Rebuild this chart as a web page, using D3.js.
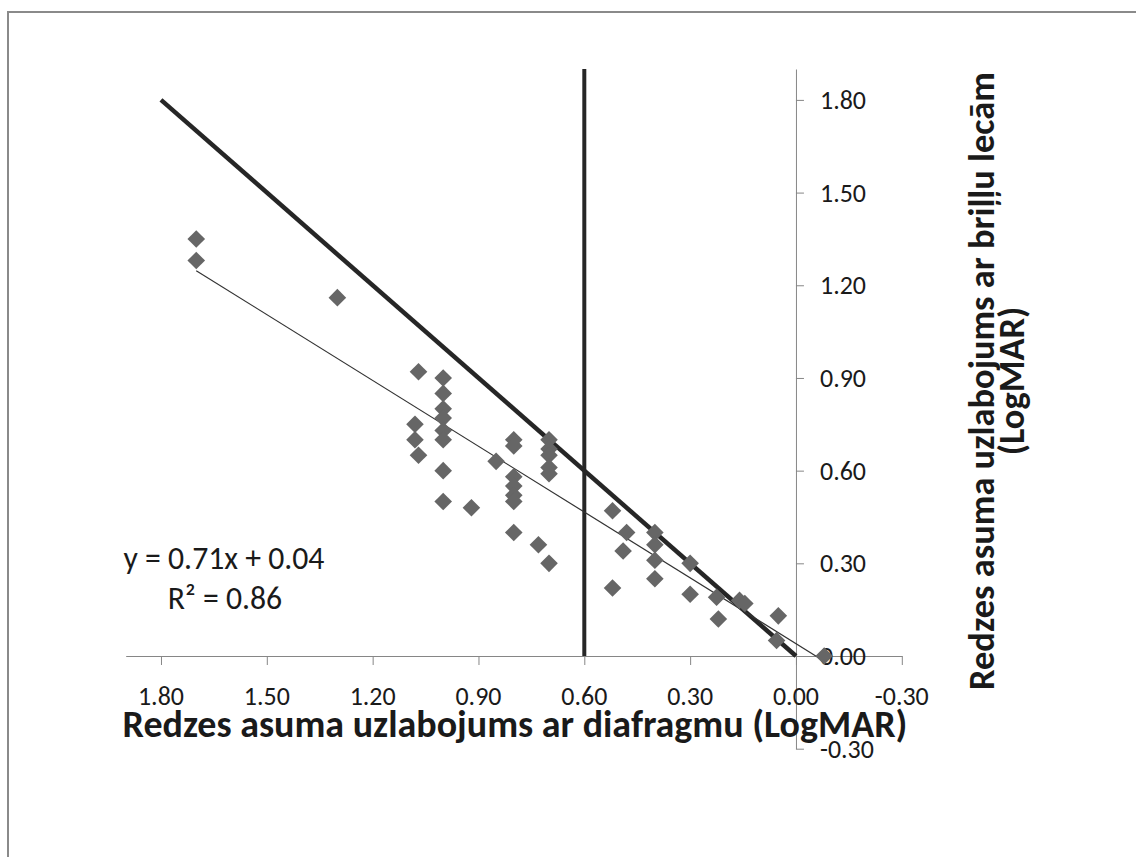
<!DOCTYPE html>
<html>
<head>
<meta charset="utf-8">
<script src="https://cdn.jsdelivr.net/npm/d3@7"></script>
<style>
  html, body { margin: 0; padding: 0; background: #fff; }
  svg { display: block; }
  text { font-family: Carlito, Lato, "Open Sans", sans-serif; fill: #1a1a1a; }
</style>
</head>
<body>
<svg id="chart" width="1136" height="857"></svg>
<script>
// ---- data ----
const xValues = [1.70, 1.70, 1.30, 1.07, 1.00, 1.00, 1.00, 1.00, 1.00, 1.00,
                 1.08, 1.08, 1.07, 1.00, 1.00, 0.92, 0.85, 0.80, 0.80, 0.80,
                 0.80, 0.80, 0.80, 0.80, 0.73, 0.70, 0.70, 0.70, 0.70, 0.70,
                 0.70, 0.52, 0.48, 0.49, 0.52, 0.40, 0.40, 0.40, 0.40, 0.30,
                 0.30, 0.225, 0.22, 0.16, 0.145, 0.05, 0.055, -0.08];
const yValues = [1.35, 1.28, 1.16, 0.92, 0.90, 0.85, 0.80, 0.77, 0.73, 0.70,
                 0.75, 0.70, 0.65, 0.60, 0.50, 0.48, 0.63, 0.70, 0.68, 0.58,
                 0.55, 0.52, 0.50, 0.40, 0.36, 0.30, 0.70, 0.67, 0.65, 0.61,
                 0.59, 0.47, 0.40, 0.34, 0.22, 0.40, 0.36, 0.31, 0.25, 0.30,
                 0.20, 0.19, 0.12, 0.18, 0.17, 0.13, 0.05, 0.00];
const xTicks = [1.80, 1.50, 1.20, 0.90, 0.60, 0.30, 0.00, -0.30];
const yTicks = [-0.30, 0.00, 0.30, 0.60, 0.90, 1.20, 1.50, 1.80];
const identityLine = [[1.80, 1.80], [0.00, 0.00]];
const thresholdLine = [[0.60, 0.00], [0.60, 1.90]];
const trendSlope = 0.71, trendIntercept = 0.04;
const trendRange = [1.70, -0.08];
const equationLines = ["y = 0.71x + 0.04", "R² = 0.86"];
const xTitle = "Redzes asuma uzlabojums ar diafragmu (LogMAR)";
const yTitleLines = ["Redzes asuma uzlabojums ar briļļu lecām", "(LogMAR)"];

// ---- layout ----
const svg = d3.select("#chart");
const x = d3.scaleLinear().domain([1.90, -0.30]).range([125.7, 901.8]);
const y = d3.scaleLinear().domain([-0.30, 1.90]).range([748.7, 69]);
const axisColor = "#868686";
const fmt = d => d.toFixed(2);

function fit(sel, target) {
  const w = sel.node().getComputedTextLength();
  const fs = parseFloat(sel.attr("font-size"));
  const nfs = fs * target / w;
  sel.attr("font-size", nfs);
  return nfs;
}

// outer border (only top/left visible in reference)
svg.append("rect")
  .attr("x", 8).attr("y", 12)
  .attr("width", 1200).attr("height", 900)
  .attr("fill", "none").attr("stroke", "#8a8a8a").attr("stroke-width", 2);

// X axis at y = 0
const xAxisG = svg.append("g")
  .attr("transform", `translate(0,${y(0)})`)
  .call(d3.axisBottom(x).tickValues(xTicks).tickSize(9).tickSizeOuter(0).tickFormat(() => ""));
xAxisG.select(".domain").attr("stroke", axisColor);
xAxisG.selectAll(".tick line").attr("stroke", axisColor);

// Y axis at x = 0 (ticks to the right)
const yAxisG = svg.append("g")
  .attr("transform", `translate(${x(0)},0)`)
  .call(d3.axisRight(y).tickValues(yTicks).tickSize(8).tickSizeOuter(0).tickFormat(() => ""));
yAxisG.select(".domain").attr("stroke", axisColor);
yAxisG.selectAll(".tick line").attr("stroke", axisColor);

// tick label size: fit "1.80" to reference width
const probe = svg.append("text").attr("font-size", 24).text("1.80");
const tickFs = fit(probe, 46);
probe.remove();

svg.append("g").selectAll("text").data(xTicks).join("text")
  .attr("x", d => x(d)).attr("y", 696)
  .attr("text-anchor", "middle").attr("dominant-baseline", "central")
  .attr("font-size", tickFs)
  .text(fmt);

svg.append("g").selectAll("text").data(yTicks).join("text")
  .attr("x", 820).attr("y", d => y(d))
  .attr("text-anchor", "start").attr("dominant-baseline", "central")
  .attr("font-size", tickFs)
  .text(fmt);

// reference lines
const line = d3.line().x(d => x(d[0])).y(d => y(d[1]));
svg.append("path").datum(thresholdLine).attr("d", line)
  .attr("stroke", "#262626").attr("stroke-width", 4).attr("fill", "none");
svg.append("path").datum(identityLine).attr("d", line)
  .attr("stroke", "#262626").attr("stroke-width", 4.5).attr("fill", "none");

// trend line
const trendPts = trendRange.map(v => [v, trendSlope * v + trendIntercept]);
svg.append("path").datum(trendPts).attr("d", line)
  .attr("stroke", "#333").attr("stroke-width", 1.2).attr("fill", "none");

// points (diamonds)
const pts = xValues.map((v, i) => [v, yValues[i]]);
const r = 8.8;
svg.append("g").selectAll("path").data(pts).join("path")
  .attr("transform", d => `translate(${x(d[0])},${y(d[1])})`)
  .attr("d", `M0,${-r}L${r},0L0,${r}L${-r},0Z`)
  .attr("fill", "#666666");

// equation
const eq1 = svg.append("text").attr("x", 224).attr("y", 558)
  .attr("text-anchor", "middle").attr("dominant-baseline", "central")
  .attr("font-size", 22).text(equationLines[0]);
const eqFs = fit(eq1, 201);
svg.append("text").attr("x", 225).attr("y", 598)
  .attr("text-anchor", "middle").attr("dominant-baseline", "central")
  .attr("font-size", eqFs).text(equationLines[1]);

// x title
const xt = svg.append("text").attr("x", 515).attr("y", 737)
  .attr("text-anchor", "middle").attr("font-weight", "bold")
  .attr("font-size", 26).text(xTitle);
fit(xt, 785);

// y title (rotated)
const yt1 = svg.append("text")
  .attr("transform", "translate(994,381) rotate(-90)")
  .attr("text-anchor", "middle").attr("font-weight", "bold")
  .attr("font-size", 26).text(yTitleLines[0]);
const ytFs = fit(yt1, 618);
svg.append("text")
  .attr("transform", "translate(1024,381) rotate(-90)")
  .attr("text-anchor", "middle").attr("font-weight", "bold")
  .attr("font-size", ytFs).text(yTitleLines[1]);
</script>
</body>
</html>
